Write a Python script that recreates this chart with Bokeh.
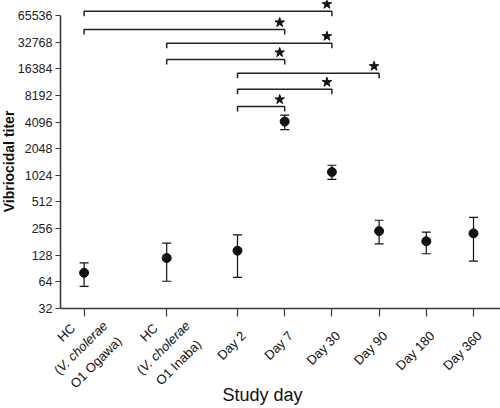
import math
from bokeh.plotting import figure
from bokeh.models import (ColumnDataSource, Range1d, FixedTicker, NumeralTickFormatter,
                          Whisker, TeeHead)
from bokeh.core.properties import value
from bokeh.embed import file_html
from bokeh.resources import INLINE

# ---------------- data ----------------
tick_label_lines = [
    ["HC", "(V. cholerae", "O1 Ogawa)"],
    ["HC", "(V. cholerae", "O1 Inaba)"],
    ["Day 2"], ["Day 7"], ["Day 30"], ["Day 90"], ["Day 180"], ["Day 360"],
]
italic_part = "V. cholerae"
titer_gmt = [81, 119, 144, 4150, 1115, 240, 184, 226]
titer_upper = [105, 175, 217, 4900, 1330, 318, 234, 342]
titer_lower = [57, 65, 72, 3370, 923, 172, 133, 110]
y_ticks = [32, 64, 128, 256, 512, 1024, 2048, 4096, 8192, 16384, 32768, 65536]
comparisons = [(0, 4), (0, 3), (1, 4), (1, 3), (2, 5), (2, 4), (2, 3)]
bracket_levels = [73350, 45550, 31860, 20850, 14600, 9630, 6140]
x_title = "Study day"
y_title = "Vibriocidal titer"

# ---------------- layout (whole canvas is the frame; axes at fixed locations) ----
x_pos = [-3.25, -1.5, 0, 1, 2, 3, 4, 5]
W_FIG, H_FIG = 500, 408
AXIS_X_PX = 60          # screen x of the y axis
AXIS_Y_PX = 308         # screen y of the x axis
X0, X1 = -3.75, 5.572   # data x at the y axis / right edge
PX_OCT = 293 / 11       # pixels per doubling
px_per_x = (W_FIG - AXIS_X_PX) / (X1 - X0)
XL = X0 - AXIS_X_PX / px_per_x
YB = y_ticks[0] * 2 ** (-(H_FIG - AXIS_Y_PX) / PX_OCT)
YT = y_ticks[0] * 2 ** (AXIS_Y_PX / PX_OCT)


def at_px(sx, sy):
    """absolute screen px -> data coords"""
    return XL + sx / px_per_x, y_ticks[0] * 2 ** ((AXIS_Y_PX - sy) / PX_OCT)


def below_tick(xv, dx, dy):
    """offset (px, y down) from the x-axis tick at data x -> data coords"""
    return xv + dx / px_per_x, y_ticks[0] * 2 ** (-dy / PX_OCT)


FONT = "Liberation Sans"
INK = "#111111"
AX = "#3a3a3a"

p = figure(width=W_FIG, height=H_FIG, output_backend="svg", toolbar_location=None,
           x_range=Range1d(XL, X1), y_range=Range1d(YB, YT), y_axis_type="log",
           min_border_left=0, min_border_right=0, min_border_top=0,
           min_border_bottom=0)
p.outline_line_color = None
p.xgrid.visible = False
p.ygrid.visible = False
p.background_fill_color = "white"
p.border_fill_color = "white"

# y axis
ya = p.yaxis[0]
ya.fixed_location = X0
ya.ticker = FixedTicker(ticks=y_ticks)
ya.formatter = NumeralTickFormatter(format="0")
ya.bounds = (y_ticks[0], y_ticks[-1])
ya.major_tick_out = 5
ya.major_tick_in = 0
ya.minor_tick_out = 0
ya.minor_tick_in = 0
ya.axis_line_color = AX
ya.axis_line_width = 1.6
ya.major_tick_line_color = AX
ya.major_tick_line_width = 1.2
ya.major_label_text_font = FONT
ya.major_label_text_font_size = "12.5px"
ya.major_label_text_color = "#222222"
ya.major_label_standoff = 3

# x axis (tick labels drawn as rotated texts below)
xa = p.xaxis[0]
xa.fixed_location = y_ticks[0]
xa.bounds = (X0, X1)
xa.ticker = FixedTicker(ticks=x_pos)
xa.major_label_overrides = {xp: "" for xp in x_pos}
xa.major_label_text_font_size = "1px"
xa.major_tick_out = 8
xa.major_tick_in = 0
xa.minor_tick_out = 0
xa.minor_tick_in = 0
xa.axis_line_color = AX
xa.axis_line_width = 1.6
xa.major_tick_line_color = AX
xa.major_tick_line_width = 1.2

# error bars and means
src = ColumnDataSource(dict(x=x_pos, y=titer_gmt, upper=titer_upper, lower=titer_lower))
wh = Whisker(base="x", upper="upper", lower="lower", source=src,
             line_color=INK, line_width=1.2,
             upper_head=TeeHead(size=9, line_color=INK, line_width=1.2),
             lower_head=TeeHead(size=9, line_color=INK, line_width=1.2))
p.add_layout(wh)
p.scatter("x", "y", source=src, size=9, color=INK, marker="circle")

# significance brackets
drop = 2 ** (-5 / PX_OCT)
xs, ys, sx, sy = [], [], [], []
for (a, b), lev in zip(comparisons, bracket_levels):
    xl, xr = x_pos[a], x_pos[b]
    xs.append([xl, xl, xr, xr])
    ys.append([lev * drop, lev, lev, lev * drop])
    sx.append(xr - 5 / px_per_x)
    sy.append(lev * 2 ** (7 / PX_OCT))
p.multi_line(xs, ys, line_color="#222222", line_width=1.5)
p.scatter(sx, sy, marker="star", size=10, color=INK)

# rotated category labels
FS = 13
CW = {' ': .278, '(': .333, ')': .333, '.': .278, '0': .556, '1': .556, '2': .556,
      '3': .556, '4': .556, '5': .556, '6': .556, '7': .556, '8': .556, '9': .556,
      'C': .722, 'D': .722, 'H': .722, 'I': .278, 'O': .778, 'V': .667, 'a': .556,
      'b': .556, 'c': .5, 'e': .556, 'g': .556, 'h': .556, 'l': .222, 'n': .556,
      'o': .556, 'r': .333, 'w': .722, 'y': .5}


def tw(s):
    return sum(CW.get(ch, .556) for ch in s) * FS


c = math.sqrt(0.5)
u = (c, -c)   # along baseline (screen, y down)
v = (c, c)    # next-line direction
groups = {"left-normal": dict(x=[], y=[], t=[]), "left-italic": dict(x=[], y=[], t=[]),
          "right-normal": dict(x=[], y=[], t=[])}


def add(key, xv, t, dx, dy):
    X, Y = below_tick(xv, dx, dy)
    g = groups[key]
    g["x"].append(X)
    g["y"].append(Y)
    g["t"].append(t)


for i, lines in enumerate(tick_label_lines):
    xv = x_pos[i]
    if len(lines) == 1:
        add("right-normal", xv, lines[0], 6, 25)
        continue
    n = len(lines)
    for k, line in enumerate(lines):
        off = (k - (n - 1) / 2) * 21
        cx, cy = -3 + off * v[0], 39 + off * v[1]
        if italic_part in line:
            pre, post = line.split(italic_part)
            pieces = [(pre, False), (italic_part, True), (post, False)]
        else:
            pieces = [(line, False)]
        total = sum(tw(t) for t, _ in pieces)
        cum = -total / 2
        for t, it in pieces:
            if t:
                add("left-italic" if it else "left-normal", xv, t,
                    cx + cum * u[0], cy + cum * u[1])
            cum += tw(t)

for key, g in groups.items():
    align, style = key.split("-")
    p.text(x=g["x"], y=g["y"], text=g["t"], angle=math.pi / 4,
           text_align=value(align), text_baseline=value("middle"),
           text_font=value(FONT), text_font_size=value(f"{FS}px"),
           text_font_style=value(style), text_color="#111111")

# axis titles
tx, ty = at_px(8, 161)
p.text(x=[tx], y=[ty], text=[y_title], angle=math.pi / 2, text_align="center",
       text_baseline="middle", text_font=value(FONT), text_font_size=value("14px"),
       text_font_style=value("bold"), text_color="#111111")
tx, ty = at_px(262, 394)
p.text(x=[tx], y=[ty], text=[x_title], text_align="center",
       text_baseline="middle", text_font=value(FONT), text_font_size=value("18px"),
       text_color="#111111")

open("out.html", "w").write(file_html(p, INLINE))
